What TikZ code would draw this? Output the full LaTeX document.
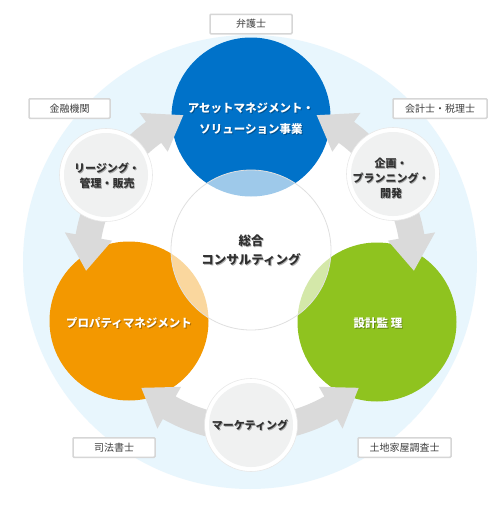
\documentclass[tikz,border=0pt]{standalone}
\usepackage{fontspec}
\setmainfont{Noto Sans CJK JP}
\usetikzlibrary{calc}
\definecolor{bgblue}{HTML}{E8F6FD}
\definecolor{cblue}{HTML}{0072C9}
\definecolor{corange}{HTML}{F39800}
\definecolor{cgreen}{HTML}{8FC31F}
\definecolor{arrowgrey}{HTML}{DADADA}
\definecolor{smallfill}{HTML}{F0F1F1}
\definecolor{boxline}{HTML}{D6D6D6}
\definecolor{txtdark}{HTML}{303030}
\newcommand\curvarrow[3]{%
  \fill[arrowgrey] ($(O)+(#1:177)$) arc[start angle=#1,end angle=#2,radius=177]
    -- ($(O)+(#2:188)$) -- ($(O)+(#3:164)$) -- ($(O)+(#2:140)$)
    -- ($(O)+(#2:151)$) arc[start angle=#2,end angle=#1,radius=151] -- cycle;}
\newcommand\shadowlabel[5]{%
  \node[#3, text=black, text opacity=0.3] (#1s) at ($(#2)+(0.9,0.9)$) {#5};
  \node[#3, text=#4] (#1) at (#2) {#5};}
\begin{document}
\begin{tikzpicture}[x=1pt,y=-1pt,
  bigc/.style={circle, minimum size=159pt, inner sep=0pt},
  ringc/.style={circle, minimum size=93pt, inner sep=0pt, fill=white, draw=black!9, line width=0.6pt},
  innerc/.style={circle, minimum size=84pt, inner sep=0pt, fill=smallfill},
  boxlbl/.style={draw=boxline, line width=1.5pt, fill=white, rounded corners=1pt,
     minimum height=19.5pt, inner sep=0pt, text=black!75,
     font=\fontsize{10}{12}\selectfont},
  bigtxt/.style={align=center, inner sep=0pt, font=\fontsize{11.5}{21}\selectfont\bfseries},
  centxt/.style={align=center, inner sep=0pt, font=\fontsize{12.5}{19}\selectfont\bfseries},
  smtxt/.style={align=center, inner sep=0pt, font=\fontsize{11}{15}\selectfont\bfseries}]
\useasboundingbox (0,0) rectangle (500,530);
\fill[white] (0,0) rectangle (500,530);
\coordinate (O) at (250,265);
% background rings
\fill[bgblue] (250,262) circle[radius=227];
\fill[white] (O) circle[radius=164];
% big coloured circles
\node[bigc, fill=cblue] (blue) at (251,117) {};
\node[bigc, fill=corange] (orange) at (129,321) {};
\node[bigc, fill=cgreen] (green) at (377,322) {};
% central translucent circle
\node[circle, minimum size=160pt, inner sep=0pt, fill=white, fill opacity=0.62,
      draw=black!12, line width=0.8pt] (center) at (251,250) {};
% arrows
\curvarrow{212}{234}{246}
\curvarrow{212}{190}{178}
\curvarrow{328}{306}{294}
\curvarrow{328}{350}{362}
\curvarrow{90}{119.5}{131.5}
\curvarrow{90}{60.5}{48.5}
% small circles
\node[ringc] (ringA) at (106,175) {};
\node[innerc] (smA) at (106,175) {};
\node[ringc] (ringB) at (393,174) {};
\node[innerc] (smB) at (393,174) {};
\node[ringc] (ringM) at (251,425) {};
\node[innerc] (smM) at (251,425) {};
% label boxes
\node[boxlbl, minimum width=82pt] (b1) at (251,24) {弁護士};
\node[boxlbl, minimum width=81pt] (b2) at (69.5,108.5) {金融機関};
\node[boxlbl, minimum width=94pt] (b3) at (440,108.5) {会計士・税理士};
\node[boxlbl, minimum width=82pt] (b4) at (114,447.5) {司法書士};
\node[boxlbl, minimum width=93pt] (b5) at (404.5,447.5) {土地家屋調査士};
% texts
\shadowlabel{tblue}{251,119}{bigtxt}{white}{アセットマネジメント・\\ソリューション事業}
\shadowlabel{torange}{129,323}{bigtxt}{white}{プロパティマネジメント}
\shadowlabel{tgreen}{378,323}{bigtxt}{white}{設計監 理}
\shadowlabel{tcenter}{251,250}{centxt}{txtdark}{総合\\コンサルティング}
\shadowlabel{tA}{107,175.5}{smtxt}{txtdark}{リージング・\\管理・販売}
\shadowlabel{tB}{391,178}{smtxt}{txtdark}{企画・\\プランニング・\\開発}
\shadowlabel{tM}{250,425}{smtxt}{txtdark}{マーケティング}
\end{tikzpicture}
\end{document}
